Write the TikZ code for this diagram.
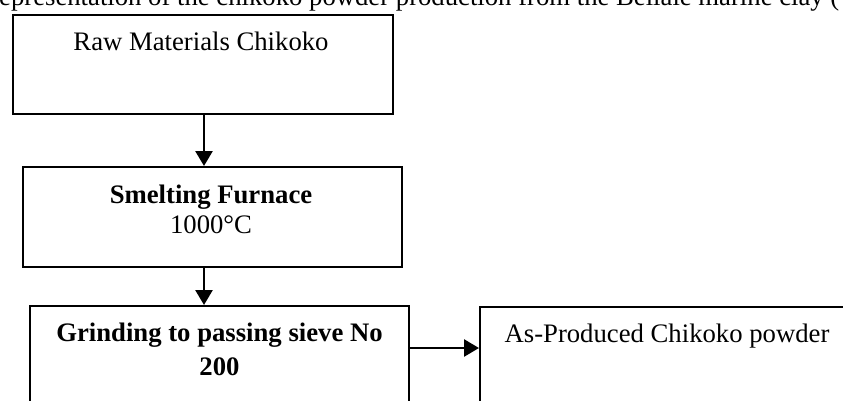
\documentclass[tikz,border=0pt]{standalone}
\usepackage{fontspec}
\setmainfont{Liberation Serif}
\usetikzlibrary{arrows.meta}
\begin{document}
\begin{tikzpicture}[x=1pt,y=-1pt,
  box/.style={draw,line width=2.4pt,inner sep=0pt,anchor=north west},
  txt/.style={anchor=base,inner sep=0pt,font=\fontsize{26.7}{32}\selectfont},
  arr/.style={line width=2.6pt,-{Triangle[length=15pt,width=17pt]}}]
\useasboundingbox (0,0) rectangle (843,400);
\clip (0,0) rectangle (843,400);
\node[txt,anchor=base west] (cap) at (-1,5) {epresentation of the chikoko powder production from the Bellale marine clay (};
\node[box,minimum width=380pt,minimum height=99pt] (b1) at (12,14) {};
\node[box,minimum width=379pt,minimum height=100pt] (b2) at (22,166) {};
\node[box,minimum width=379pt,minimum height=120pt] (b3) at (29,305) {};
\node[box,minimum width=390pt,minimum height=120pt] (b4) at (479,306) {};
\node[txt] (t1) at (201,50) {Raw Materials Chikoko};
\node[txt] (t2a) at (211,203) {\bfseries Smelting Furnace};
\node[txt] (t2b) at (211,233) {1000°C};
\node[txt] (t3a) at (219.5,341) {\bfseries Grinding to passing sieve No};
\node[txt] (t3b) at (219.5,375) {\bfseries 200};
\node[txt] (t4) at (667,342) {As-Produced Chikoko powder};
\coordinate (a1) at (204,113);
\coordinate (a2) at (204,266);
\draw[arr] (a1) -- (a1 |- b2.north);
\draw[arr] (a2) -- (a2 |- b3.north);
\coordinate (a3) at (408,348);
\draw[arr] (a3) -- (a3 -| b4.west);
\end{tikzpicture}
\end{document}
